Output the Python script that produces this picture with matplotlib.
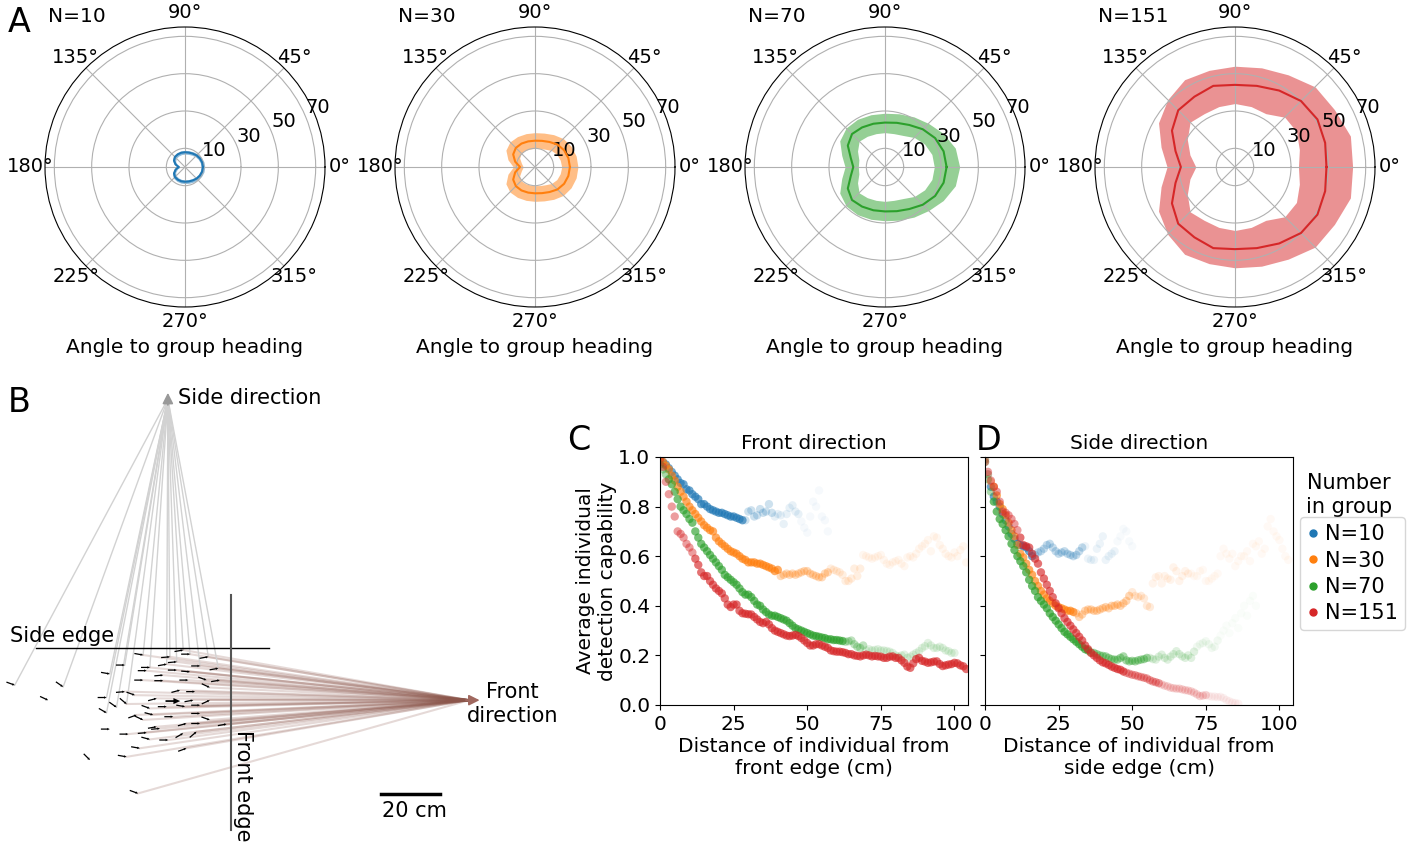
import numpy as np
import matplotlib.pyplot as plt
from matplotlib.colors import to_rgba
from matplotlib.lines import Line2D

plt.rcParams['font.size'] = 14.5

W, H = 1414, 843
colors = ['#1f77b4', '#ff7f0e', '#2ca02c', '#d62728']
group_labels = ['N=10', 'N=30', 'N=70', 'N=151']

# ---- A: detection range vs angle (0..180 deg, mirrored) ----
ang_deg = [0, 15, 30, 45, 60, 75, 90, 105, 120, 135, 150, 165, 180]
mean_10 = [9.6, 9.5, 9.2, 8.8, 8.3, 8.0, 7.9, 7.9, 7.8, 7.6, 6.8, 5.2, 3.3]
lo_10 = [8.6, 8.5, 8.2, 7.8, 7.3, 7.0, 6.9, 6.9, 6.8, 6.6, 5.8, 4.2, 2.5]
hi_10 = [10.6, 10.5, 10.2, 9.8, 9.3, 9.0, 8.9, 8.9, 8.8, 8.6, 7.8, 6.2, 4.1]
mean_30 = [18.7, 18.5, 18.0, 17.0, 15.5, 14.5, 14.1, 14.2, 14.5, 14.5, 13.5, 11.0, 8.0]
lo_30 = [14.3, 14.0, 13.5, 12.5, 11.0, 10.3, 10.0, 10.0, 10.3, 10.5, 9.5, 7.5, 6.3]
hi_30 = [23.0, 22.8, 22.3, 21.5, 20.0, 18.8, 18.4, 18.5, 18.8, 19.0, 18.0, 15.0, 11.6]
mean_70 = [33.0, 32.5, 31.0, 28.6, 26.0, 24.5, 23.8, 24.0, 24.5, 25.0, 23.0, 19.0, 17.0]
lo_70 = [26.4, 26.0, 24.5, 22.3, 19.5, 18.5, 18.4, 18.5, 19.0, 19.6, 17.0, 14.5, 14.3]
hi_70 = [40.0, 39.0, 36.0, 33.0, 31.0, 29.5, 28.8, 29.0, 29.5, 29.5, 28.0, 24.0, 21.4]
mean_151 = [49.0, 50.0, 51.0, 50.0, 47.3, 45.0, 44.0, 45.0, 43.5, 43.0, 39.0, 33.0, 29.0]
lo_151 = [34.0, 35.7, 38.0, 37.7, 33.0, 33.5, 34.0, 33.5, 33.0, 34.0, 29.5, 25.0, 21.0]
hi_151 = [63.0, 64.0, 61.5, 60.7, 57.0, 55.0, 54.0, 53.6, 54.0, 51.0, 47.3, 41.0, 36.4]
polar_means = [mean_10, mean_30, mean_70, mean_151]
polar_los = [lo_10, lo_30, lo_70, lo_151]
polar_his = [hi_10, hi_30, hi_70, hi_151]

# ---- B: snapshot of a group (cm, relative to group centre) ----
ind_x = [-10.1, -1.0, 3.5, 5.8, 12.0, -16.3, -7.8, -2.1, 1.3, 9.2, 15.4, -21.4, -8.9, -3.3, 1.3, 5.8,
         -10.1, -3.3, 5.2, 11.4, 15.9, 12.5, -16.3, 2.4, 7.5, -22.5, -12.9, -5.5, 6.9, 12.5, -19.1,
         -15.7, -7.8, -2.1, 4.1, 9.2, -22.5, -12.3, -6.7, 0.1, 9.2, 12.5, -10.1, -5.5, 4.6, 9.2, 18.2,
         -21.4, -4.4, 3.5, 8.0, -15.1, -8.9, -7.8, -1.6, -11.2, 4.6, -15.7, -53.6, -37.2, -42.3, -28.1,
         -11.8]
ind_y = [15.6, 15.0, 17.3, 15.9, 15.0, 12.2, 11.4, 12.5, 13.3, 11.9, 11.1, 9.2, 10.3, 8.8, 10.5, 9.9,
         7.1, 6.9, 7.1, 7.1, 7.1, 4.6, 3.2, 3.7, 3.2, 1.2, 2.0, 0.9, 0.3, 0.3, -2.1,
         -1.0, -2.5, -1.9, -1.9, -1.4, -4.0, -4.7, -4.7, -5.3, -4.2, -6.4, -6.4, -8.7, -7.6, -7.6, -7.8,
         -9.5, -9.3, -10.9, -10.4, -11.2, -10.7, -13.0, -13.2, -16.0, -16.0, -18.9, 5.4, 4.8, 0.3, -20.0,
         -31.3]
ind_heading = [-10, 5, 10, 0, 10, 0, 0, 10, 5, 0, 10, -10, 0, 5, 0, -5,
               0, 0, 0, -20, 10, -25, 5, 15, 0, 0, -20, 15, 10, 25, -35,
               -40, -20, 0, -10, 0, -30, 20, -15, 0, 0, -20, -25, 10, 15, 0, 10,
               0, 5, 30, 40, 0, 5, -15, 0, -10, 20, -10, -20, -35, -25, -45,
               -20]
side_seen = [1, 1, 1, 1, 1, 1, 1, 1, 1, 1, 1, 1, 0, 0, 0, 0,
             0, 0, 0, 0, 0, 0, 0, 0, 0, 1, 0, 0, 0, 0, 1,
             1, 0, 0, 0, 0, 1, 0, 0, 0, 0, 0, 0, 0, 0, 0, 0,
             0, 0, 0, 0, 0, 0, 0, 0, 0, 0, 0, 1, 1, 0, 0,
             0]
front_seen = [1, 1, 1, 1, 1, 0, 1, 1, 1, 1, 1, 0, 1, 1, 1, 1,
              1, 1, 1, 1, 1, 1, 1, 1, 1, 0, 1, 1, 1, 1, 0,
              1, 1, 1, 1, 1, 0, 1, 1, 1, 1, 1, 1, 1, 1, 1, 1,
              0, 1, 1, 1, 1, 1, 1, 1, 1, 1, 1, 0, 0, 0, 0,
              1]
side_tip = (-1.7, 105.4)
front_tip = (103.4, 0.3)

# ---- C/D: detection capability vs distance from edge (1 cm bins) ----
front_10 = [0.99, 0.98, 0.97, 0.955, 0.94, 0.925, 0.91, 0.895, 0.89, 0.87, 0.865, 0.85, 0.84, 0.83, 0.81,
            0.81, 0.80, 0.79, 0.785, 0.78, 0.775, 0.775, 0.77, 0.765, 0.76, 0.76, 0.755, 0.75, 0.745, 0.745,
            0.78, 0.785, 0.76, 0.765, 0.79, 0.775, 0.78, 0.81, 0.775, 0.76, 0.77, 0.765, 0.73, 0.77, 0.795,
            0.805, 0.78, 0.77, 0.74, 0.715, 0.695, 0.76, 0.82, 0.80, 0.865, 0.76, 0.745, 0.70]
front_30 = [0.99, 0.98, 0.965, 0.95, 0.925, 0.905, 0.88, 0.86, 0.84, 0.82, 0.80, 0.785, 0.77, 0.755, 0.74,
            0.725, 0.715, 0.705, 0.70, 0.675, 0.66, 0.65, 0.64, 0.63, 0.62, 0.615, 0.61, 0.60, 0.59, 0.585,
            0.575, 0.575, 0.575, 0.57, 0.57, 0.565, 0.56, 0.555, 0.55, 0.54, 0.545, 0.52, 0.525, 0.53, 0.525,
            0.53, 0.525, 0.53, 0.535, 0.54, 0.54, 0.53, 0.525, 0.52, 0.515, 0.515, 0.53, 0.535, 0.55, 0.545,
            0.54, 0.535, 0.525, 0.50, 0.50, 0.51, 0.55, 0.52, 0.55, 0.605, 0.60, 0.595, 0.59, 0.595, 0.60,
            0.605, 0.585, 0.57, 0.565, 0.575, 0.58, 0.585, 0.57, 0.56, 0.595, 0.60, 0.595, 0.61, 0.63, 0.64,
            0.65, 0.665, 0.62, 0.68, 0.675, 0.645, 0.63, 0.61, 0.60, 0.595, 0.615, 0.60, 0.625, 0.64, 0.575]
front_70 = [0.97, 0.95, 0.93, 0.91, 0.89, 0.86, 0.83, 0.80, 0.785, 0.77, 0.75, 0.735, 0.70, 0.675, 0.65,
            0.635, 0.62, 0.605, 0.59, 0.575, 0.56, 0.545, 0.525, 0.515, 0.505, 0.495, 0.485, 0.47, 0.455,
            0.445, 0.445, 0.435, 0.42, 0.405, 0.40, 0.385, 0.375, 0.365, 0.36, 0.36, 0.355, 0.35, 0.345,
            0.34, 0.33, 0.32, 0.31, 0.305, 0.30, 0.295, 0.29, 0.285, 0.28, 0.278, 0.275, 0.272, 0.27, 0.265,
            0.265, 0.262, 0.262, 0.26, 0.258, 0.255, 0.257, 0.26, 0.245, 0.235, 0.23, 0.24, 0.22, 0.225,
            0.22, 0.222, 0.225, 0.22, 0.22, 0.218, 0.215, 0.21, 0.20, 0.196, 0.20, 0.203, 0.19, 0.195, 0.203,
            0.21, 0.217, 0.23, 0.237, 0.25, 0.24, 0.23, 0.23, 0.235, 0.23, 0.22, 0.217, 0.21, 0.21]
front_151 = [0.99, 0.96, 0.90, 0.85, 0.80, 0.76, 0.70, 0.69, 0.675, 0.65, 0.635, 0.615, 0.59, 0.565, 0.535,
             0.52, 0.52, 0.50, 0.485, 0.47, 0.46, 0.45, 0.43, 0.405, 0.395, 0.405, 0.405, 0.38, 0.37, 0.368,
             0.366, 0.365, 0.355, 0.345, 0.335, 0.33, 0.335, 0.325, 0.31, 0.30, 0.295, 0.29, 0.285, 0.28,
             0.278, 0.28, 0.283, 0.278, 0.27, 0.26, 0.25, 0.24, 0.24, 0.245, 0.245, 0.24, 0.235, 0.23, 0.22,
             0.217, 0.215, 0.215, 0.213, 0.21, 0.205, 0.205, 0.20, 0.198, 0.196, 0.20, 0.203, 0.20, 0.196,
             0.198, 0.196, 0.195, 0.19, 0.19, 0.195, 0.196, 0.19, 0.19, 0.18, 0.17, 0.155, 0.15, 0.168, 0.185,
             0.19, 0.178, 0.175, 0.17, 0.172, 0.175, 0.176, 0.165, 0.157, 0.16, 0.163, 0.165, 0.17, 0.168,
             0.16, 0.156, 0.145]
side_10 = [0.99, 0.93, 0.88, 0.84, 0.82, 0.80, 0.77, 0.745, 0.72, 0.69, 0.67, 0.65, 0.645, 0.64, 0.635,
           0.62, 0.60, 0.605, 0.615, 0.62, 0.63, 0.645, 0.65, 0.635, 0.62, 0.61, 0.615, 0.62, 0.61, 0.605,
           0.60, 0.605, 0.62, 0.635, 0.64, 0.59, 0.585, 0.585, 0.63, 0.65, 0.68, 0.585, 0.60, 0.61, 0.62,
           0.66, 0.68, 0.71, 0.70, 0.66, 0.64]
side_30 = [0.99, 0.93, 0.90, 0.88, 0.845, 0.81, 0.79, 0.765, 0.735, 0.705, 0.68, 0.645, 0.61, 0.595, 0.57,
           0.545, 0.525, 0.50, 0.48, 0.46, 0.445, 0.43, 0.42, 0.41, 0.40, 0.395, 0.39, 0.385, 0.38, 0.38,
           0.375, 0.37, 0.355, 0.365, 0.38, 0.385, 0.385, 0.38, 0.38, 0.385, 0.39, 0.395, 0.39, 0.40, 0.40,
           0.405, 0.40, 0.41, 0.42, 0.44, 0.455, 0.44, 0.435, 0.44, 0.43, 0.40, 0.395, 0.49, 0.515, 0.52,
           0.49, 0.52, 0.51, 0.505, 0.555, 0.54, 0.50, 0.52, 0.54, 0.53, 0.53, 0.52, 0.52, 0.54, 0.545,
           0.50, 0.50, 0.51, 0.52, 0.53, 0.60, 0.63, 0.61, 0.59, 0.61, 0.56, 0.58, 0.60, 0.60, 0.62, 0.58,
           0.65, 0.64, 0.66, 0.61, 0.63, 0.72, 0.75, 0.70, 0.68, 0.665, 0.63, 0.60, 0.585]
side_70 = [0.98, 0.91, 0.86, 0.82, 0.78, 0.75, 0.73, 0.705, 0.68, 0.65, 0.625, 0.60, 0.58, 0.56, 0.535,
           0.505, 0.48, 0.46, 0.435, 0.42, 0.405, 0.39, 0.37, 0.355, 0.34, 0.325, 0.31, 0.295, 0.285, 0.275,
           0.265, 0.255, 0.245, 0.235, 0.225, 0.22, 0.212, 0.21, 0.205, 0.20, 0.198, 0.196, 0.19, 0.185,
           0.183, 0.183, 0.19, 0.196, 0.18, 0.176, 0.178, 0.176, 0.18, 0.183, 0.185, 0.19, 0.19, 0.185,
           0.183, 0.195, 0.203, 0.19, 0.183, 0.195, 0.205, 0.217, 0.205, 0.196, 0.19, 0.20, 0.19, 0.215,
           0.235, 0.245, 0.25, 0.257, 0.245, 0.23, 0.235, 0.26, 0.28, 0.30, 0.32, 0.29, 0.33, 0.35, 0.31,
           0.37, 0.40, 0.36, 0.42, 0.44, 0.40]
side_151 = [0.98, 0.94, 0.905, 0.88, 0.86, 0.82, 0.78, 0.775, 0.765, 0.75, 0.73, 0.705, 0.675, 0.645, 0.64,
            0.635, 0.61, 0.59, 0.57, 0.535, 0.51, 0.485, 0.46, 0.435, 0.41, 0.39, 0.37, 0.35, 0.335, 0.32,
            0.305, 0.29, 0.275, 0.26, 0.24, 0.225, 0.21, 0.20, 0.19, 0.18, 0.172, 0.168, 0.162, 0.155,
            0.15, 0.145, 0.142, 0.135, 0.13, 0.126, 0.122, 0.12, 0.116, 0.113, 0.11, 0.107, 0.10, 0.095,
            0.092, 0.088, 0.083, 0.078, 0.075, 0.07, 0.068, 0.066, 0.066, 0.063, 0.06, 0.058, 0.055, 0.05,
            0.043, 0.036, 0.038, 0.04, 0.036, 0.034, 0.034, 0.032, 0.033, 0.028, 0.02, 0.015, 0.01, 0.008,
            0.005]
front_series = [front_10, front_30, front_70, front_151]
side_series = [side_10, side_30, side_70, side_151]

# opacity follows how many individuals fall in each bin: (bin end, alpha)
front_fade = [[(29, 0.65), (39, 0.22), (48, 0.1), (200, 0.04)],
              [(41, 0.65), (58, 0.28), (69, 0.12), (200, 0.06)],
              [(3, 0.4), (63, 0.65), (70, 0.3), (200, 0.13)],
              [(12, 0.45), (200, 0.65)]]
side_fade = [[(2, 0.4), (17, 0.65), (34, 0.25), (45, 0.08), (200, 0.03)],
             [(3, 0.35), (31, 0.65), (50, 0.3), (57, 0.15), (70, 0.08), (200, 0.04)],
             [(3, 0.4), (36, 0.7), (56, 0.4), (72, 0.15), (80, 0.06), (200, 0.02)],
             [(12, 0.45), (48, 0.65), (60, 0.4), (76, 0.18), (200, 0.06)]]


def fade_colors(col, n, fade):
    out = []
    for i in range(n):
        for end, a in fade:
            if i < end:
                out.append(to_rgba(col, a))
                break
    return out


fig = plt.figure(figsize=(W / 100, H / 100), dpi=100)

# ---- A ----
for i in range(4):
    ax = fig.add_axes([(45 + 350 * i) / W, 1 - 307 / H, 280 / W, 280 / H], projection='polar')
    th = np.deg2rad(np.r_[ang_deg, 360 - np.array(ang_deg[::-1][1:])])
    m = np.r_[polar_means[i], polar_means[i][::-1][1:]]
    lo = np.r_[polar_los[i], polar_los[i][::-1][1:]]
    hi = np.r_[polar_his[i], polar_his[i][::-1][1:]]
    ax.fill_between(th, lo, hi, color=colors[i], alpha=0.5, lw=0)
    ax.plot(th, m, color=colors[i], lw=1.5)
    ax.set_ylim(0, 75)
    ax.set_yticks([10, 30, 50, 70])
    ax.set_rlabel_position(22.5)
    ax.tick_params(axis='x', pad=0, labelsize=14)
    ax.tick_params(axis='y', labelsize=14)
    ax.grid(color='#b0b0b0', lw=0.8)
    ax.set_xlabel('Angle to group heading', labelpad=5)
    ax.text(0.01, 1.036, group_labels[i], transform=ax.transAxes, ha='left', va='center')

# ---- B ----
axb = fig.add_axes([0, 0, 570 / W, 463 / H])
axb.set_xlim(-58.6, 134.6)
axb.set_ylim(-48.1, 108.8)
axb.axis('off')
for x, y, s, f in zip(ind_x, ind_y, side_seen, front_seen):
    if s:
        axb.plot([x, side_tip[0]], [y, side_tip[1] - 3], color='#d2d2d2', lw=1, zorder=1)
    if f:
        axb.plot([x, front_tip[0] - 3], [y, front_tip[1]], color='#8c564b', alpha=0.22, lw=1.5, zorder=1)
hd = np.deg2rad(ind_heading)
axb.quiver(ind_x, ind_y, 3 * np.cos(hd), 3 * np.sin(hd), angles='xy', scale_units='xy', scale=1,
           pivot='tip', width=0.0022, headwidth=2, headlength=2, headaxislength=2, color='k', zorder=3)
axb.quiver([0], [0], [5], [0], angles='xy', scale_units='xy', scale=1, pivot='middle',
           width=0.003, headwidth=3.5, headlength=4, headaxislength=4, color='k', zorder=3)
axb.annotate('', xy=side_tip, xytext=(side_tip[0], side_tip[1] - 6),
             arrowprops=dict(arrowstyle='-|>', color='#999999', lw=1.2, mutation_scale=16))
axb.annotate('', xy=(front_tip[0] + 1.5, front_tip[1]), xytext=(front_tip[0] - 5, front_tip[1]),
             arrowprops=dict(arrowstyle='-|>', color='#a0685f', lw=1.2, mutation_scale=16))
axb.text(side_tip[0] + 3.4, side_tip[1] - 2.7, 'Side direction', ha='left', va='center', fontsize=15)
axb.text(115.0, -1.0, 'Front\ndirection', ha='center', va='center', multialignment='center', fontsize=15)
axb.plot([-46.4, 32.5], [18.1, 18.1], color='k', lw=1)
axb.text(-55.3, 18.6, 'Side edge', ha='left', va='bottom', fontsize=15)
axb.plot([19.7, 19.7], [35.9, -43.7], color='#555555', lw=1.5)
axb.text(23.7, -9.8, 'Front edge', rotation=270, ha='center', va='top', fontsize=15)
axb.plot([70.5, 90.5], [-31.5, -31.5], color='k', lw=2.5)
axb.text(82.0, -37.3, '20 cm', ha='center', va='center', fontsize=15)

# ---- C / D ----
axc = fig.add_axes([660 / W, 1 - 705 / H, 308 / W, 248 / H])
axd = fig.add_axes([985 / W, 1 - 705 / H, 308 / W, 248 / H], sharey=axc)
for ax, series, fades, title in [(axc, front_series, front_fade, 'Front direction'),
                                  (axd, side_series, side_fade, 'Side direction')]:
    for i in range(4):
        y = series[i]
        ax.scatter(np.arange(len(y)), y, s=36, c=fade_colors(colors[i], len(y), fades[i]),
                   edgecolors='none')
    ax.set_xlim(0, 104.6)
    ax.set_ylim(0, 1)
    ax.set_xticks([0, 25, 50, 75, 100])
    ax.set_title(title, fontsize=14.5)
axc.set_yticks([0, 0.2, 0.4, 0.6, 0.8, 1.0])
axc.set_ylabel('Average individual\ndetection capability', labelpad=1)
axc.set_xlabel('Distance of individual from\nfront edge (cm)', labelpad=2)
axd.set_xlabel('Distance of individual from\nside edge (cm)', labelpad=2)
axd.tick_params(labelleft=False)

handles = [Line2D([], [], ls='none', marker='o', ms=5, color=c) for c in colors]
fig.legend(handles, group_labels, loc='upper left', bbox_to_anchor=(1300 / W, 1 - 517 / H),
           bbox_transform=fig.transFigure, borderaxespad=0, handlelength=0.5, handletextpad=0.35,
           borderpad=0.35, labelspacing=0.3, fontsize=15)
fig.text(1349 / W, 1 - 495 / H, 'Number\nin group', ha='center', va='center', multialignment='center',
         fontsize=15)

# panel letters
fig.text(8 / W, 1 - 22 / H, 'A', fontsize=24, va='center', ha='left')
fig.text(8 / W, 1 - 403 / H, 'B', fontsize=24, va='center', ha='left')
fig.text(567 / W, 1 - 441 / H, 'C', fontsize=24, va='center', ha='left')
fig.text(976 / W, 1 - 441 / H, 'D', fontsize=24, va='center', ha='left')

fig.savefig('out.png', dpi=100)
